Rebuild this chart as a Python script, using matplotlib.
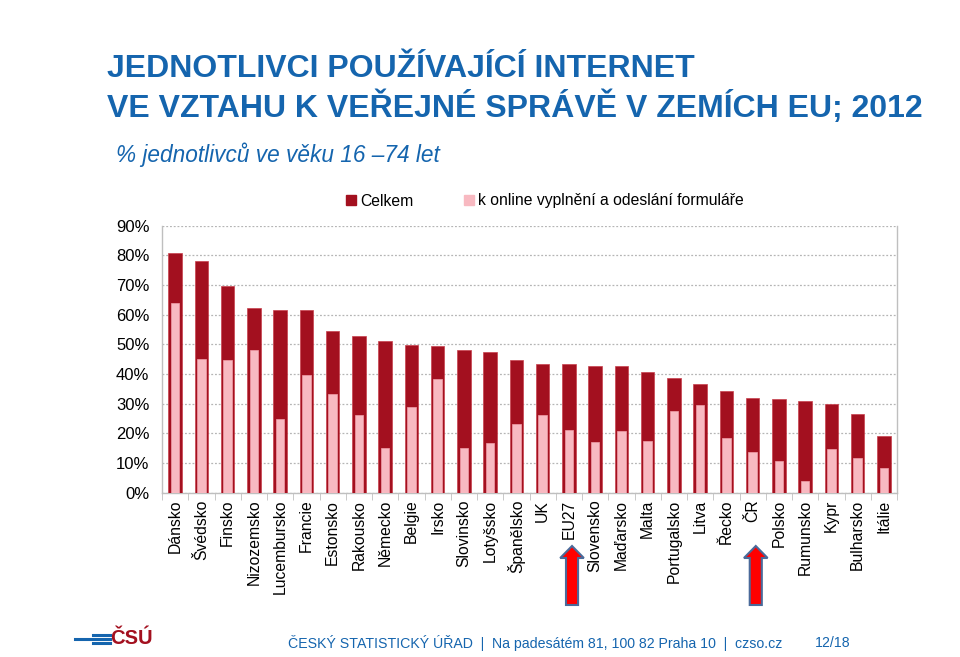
import matplotlib
matplotlib.use("Agg")
import matplotlib.pyplot as plt
import matplotlib.transforms as mtransforms
from matplotlib.patches import Patch, FancyArrow
from matplotlib.lines import Line2D
import numpy as np

plt.rcParams['font.family'] = ['Liberation Sans', 'DejaVu Sans']

countries = ["Dánsko", "Švédsko", "Finsko", "Nizozemsko", "Lucembursko", "Francie",
             "Estonsko", "Rakousko", "Německo", "Belgie", "Irsko", "Slovinsko",
             "Lotyšsko", "Španělsko", "UK", "EU27", "Slovensko", "Maďarsko", "Malta",
             "Portugalsko", "Litva", "Řecko", "ČR", "Polsko", "Rumunsko", "Kypr",
             "Bulharsko", "Itálie"]
celkem = [80.7, 78.2, 69.6, 62.4, 61.5, 61.5, 54.6, 52.8, 51.1, 49.9, 49.3, 48.0,
          47.3, 44.6, 43.3, 43.3, 42.6, 42.6, 40.7, 38.8, 36.7, 34.2, 31.8, 31.6,
          30.9, 30.0, 26.6, 19.1]
formulare = [64.0, 45.2, 44.7, 48.0, 24.7, 39.8, 33.4, 26.2, 15.1, 28.8, 38.3, 15.1,
             16.6, 23.3, 26.2, 21.0, 17.1, 20.9, 17.3, 27.4, 29.6, 18.3, 13.6, 10.8,
             3.9, 14.7, 11.6, 8.4]
highlighted = ["EU27", "ČR"]
yticks = [0, 10, 20, 30, 40, 50, 60, 70, 80, 90]

DARK = "#A3101F"
PINK = "#F8B9C1"
BLUE = "#1565AE"

fig = plt.figure(figsize=(9.6, 6.57), dpi=100)
ax = fig.add_axes([162/960, 1-492.7/657, (897-162)/960, (492.7-225.7)/657])

x = np.arange(len(countries))
ax.bar(x, celkem, width=0.52, color=DARK, edgecolor="#C8404C", linewidth=0.5, zorder=3)
ax.bar(x, formulare, width=0.32, color=PINK, edgecolor="#F2A0AA", linewidth=0.5, zorder=4)

ax.set_xlim(-0.5, len(countries)-0.5)
ax.set_ylim(0, 90)
ax.set_yticks(yticks)
ax.set_yticklabels([f"{v}%" for v in yticks], fontsize=12)
ax.set_xticks(x)
ax.set_xticklabels(countries, rotation=90, fontsize=11.3, va='top', ha='center')
ax.set_xticks(np.arange(-0.5, len(countries)), minor=True)
ax.tick_params(axis='x', which='major', length=0, pad=5)
ax.tick_params(axis='x', which='minor', length=5, color="#C0C0C0", direction='out')
ax.tick_params(axis='y', length=0, pad=9)

ax.yaxis.grid(True, linestyle=(0, (1.5, 1.5)), color="#B5B5B5", linewidth=0.9, zorder=0)
ax.set_axisbelow(True)
for s in ['left', 'right', 'bottom']:
    ax.spines[s].set_color("#BFBFBF")
    ax.spines[s].set_linewidth(1.0)
ax.spines['top'].set_visible(False)

# legend
handles = [Patch(facecolor=DARK, edgecolor=DARK), Patch(facecolor=PINK, edgecolor=PINK)]
fig.legend(handles, ["Celkem", "k online vyplnění a odeslání formuláře"],
           loc='center left', bbox_to_anchor=(346/960, 1-201/657), ncol=2, frameon=False,
           handlelength=0.65, handleheight=0.65, handletextpad=0.25, columnspacing=3.2,
           prop={'size': 11.3}, borderaxespad=0, borderpad=0)

# titles
fig.text(107/960, 1-69/657, "JEDNOTLIVCI POUŽÍVAJÍCÍ INTERNET", color=BLUE,
         fontsize=23, fontweight='bold', va='center', ha='left')
fig.text(107/960, 1-107/657, "VE VZTAHU K VEŘEJNÉ SPRÁVĚ V ZEMÍCH EU; 2012", color=BLUE,
         fontsize=23, fontweight='bold', va='center', ha='left')
fig.text(116/960, 1-155/657, "% jednotlivců ve věku 16 –74 let", color=BLUE,
         fontsize=16.3, fontstyle='italic', va='center', ha='left')

# arrows under highlighted categories
trans = mtransforms.blended_transform_factory(ax.transData, fig.transFigure)
for name in highlighted:
    i = countries.index(name)
    arr = FancyArrow(i + 0.12, 1-605/657, 0, (605-546)/657, width=0.46,
                     head_width=0.9, head_length=12/657, length_includes_head=True,
                     transform=trans, facecolor="#FF0000", edgecolor="#4A6A9A",
                     linewidth=1.5, zorder=5, clip_on=False)
    fig.add_artist(arr)

# footer
fig.text(288/960, 1-643/657,
         "ČESKÝ STATISTICKÝ ÚŘAD  |  Na padesátém 81, 100 82 Praha 10  |  czso.cz",
         color=BLUE, fontsize=10.2, va='center', ha='left')
fig.text(815/960, 1-643/657, "12/18", color=BLUE, fontsize=10.2, va='center', ha='left')

# logo
fig.add_artist(Line2D([93/960, 110/960], [1-635/657, 1-635/657], color=BLUE, lw=2.2))
fig.add_artist(Line2D([75/960, 110/960], [1-639/657, 1-639/657], color=BLUE, lw=2.2))
fig.add_artist(Line2D([93/960, 110/960], [1-643/657, 1-643/657], color=BLUE, lw=2.2))
fig.text(110/960, 1-639/657, "ČSÚ", color="#A3101F", fontsize=14.5, fontweight='bold',
         va='center', ha='left')

fig.savefig("out.png", dpi=100)
